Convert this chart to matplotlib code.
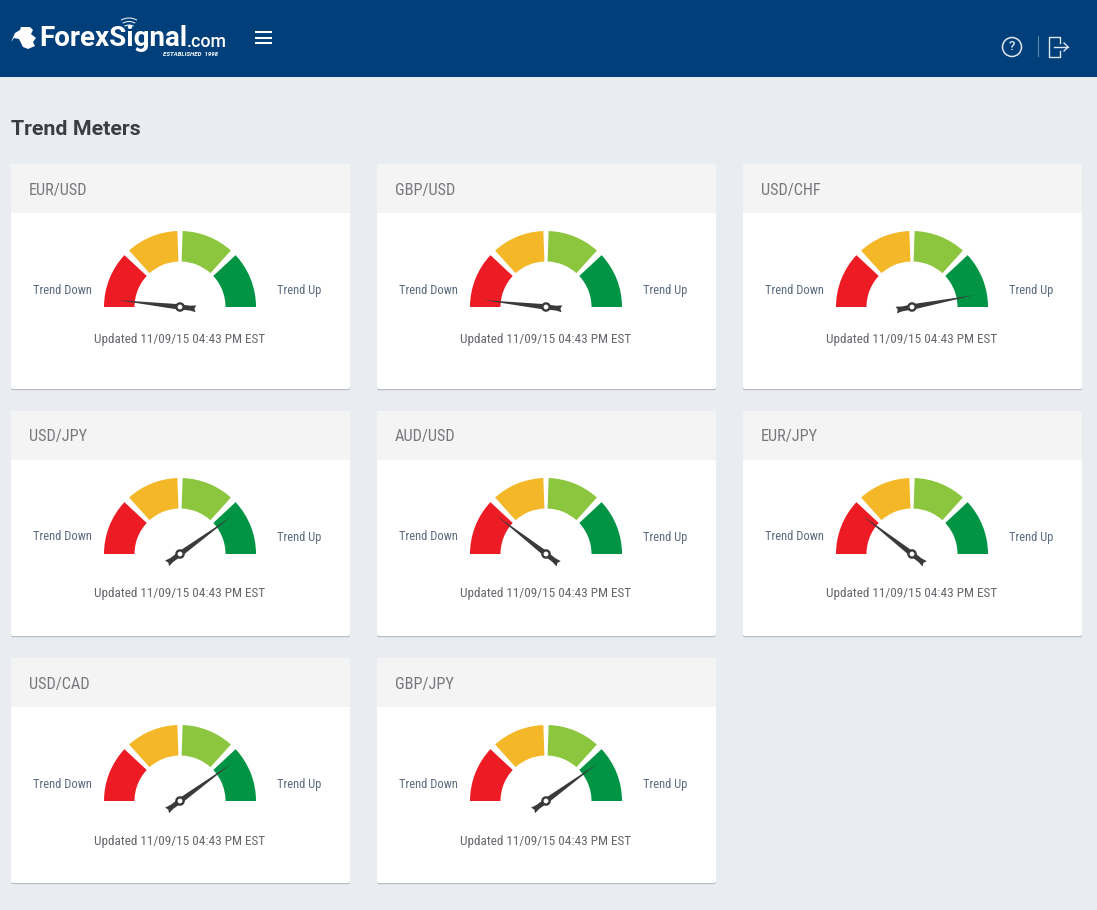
import numpy as np
import matplotlib
matplotlib.use('Agg')
import matplotlib.pyplot as plt
from matplotlib.patches import Wedge, Polygon, Circle, Rectangle, FancyBboxPatch, Arc
from matplotlib.transforms import Affine2D

pairs = ['EUR/USD', 'GBP/USD', 'USD/CHF', 'USD/JPY', 'AUD/USD', 'EUR/JPY', 'USD/CAD', 'GBP/JPY']
# needle position, 0 = far left (trend down), 100 = far right (trend up)
needle = [3.5, 3.5, 94, 80, 21, 21, 80, 80]
updated = 'Updated 11/09/15 04:43 PM EST'
zones = [(137, 180), (92, 132), (48, 88), (0, 43)]
zone_colors = ['#ed1c24', '#f4b728', '#8cc63f', '#009444']

plt.rcParams['font.family'] = 'Roboto'
narrow = 'Roboto Condensed'

fig = plt.figure(figsize=(10.97, 9.10), dpi=100, facecolor='#e9ecf1')
ax = fig.add_axes([0, 0, 1, 1])
ax.set_xlim(0, 1097)
ax.set_ylim(910, 0)
ax.axis('off')

# top bar
ax.add_patch(Rectangle((0, 0), 1097, 77, color='#003f7a', lw=0))

# logo
ax.add_patch(Polygon([(11, 42), (15, 33), (20, 30), (21, 27), (30, 27), (33, 30), (31, 34), (36, 38), (33, 42),
                      (35, 46), (28, 49), (23, 47), (19, 39), (14, 38)], color='white', lw=0))
ax.text(39, 39, 'ForexSignal', color='white', fontsize=20, fontweight='bold', va='center', ha='left')
ax.text(187, 42, '.com', color='white', fontsize=12.8, fontweight='medium', va='center', ha='left')
ax.text(163, 54.5, 'ESTABLISHED  1998', color='white', fontsize=4.4, fontweight='bold', style='italic', va='center')
for r in (9, 12.5, 16):
    ax.add_patch(Arc((129, 34), r * 2, r * 2, theta1=240, theta2=300, color='white', lw=0.7))
for y in (32, 37.5, 43):
    ax.plot([255, 272], [y, y], color='white', lw=1.5, solid_capstyle='butt')

# help / log out icons
ax.add_patch(Circle((1012, 47), 9.5, fill=False, ec='#dfe7f0', lw=1.1))
ax.text(1012, 47, '?', color='#dfe7f0', fontsize=9.5, fontweight='medium', ha='center', va='center')
ax.plot([1037.5, 1037.5], [36, 56], color='#5f86ad', lw=0.8)
ax.plot([1059.5, 1059.5, 1049, 1049, 1059.5, 1059.5], [43, 37, 37, 57, 57, 51], color='#dfe7f0', lw=1)
ax.plot([1054, 1068], [47, 47], color='#dfe7f0', lw=1)
ax.plot([1064, 1068, 1064], [43, 47, 51], color='#dfe7f0', lw=1)

ax.text(11, 129.5, 'Trend Meters', color='#3b3d42', fontsize=15.4, fontweight='bold', va='center', ha='left')

needle_x = [63, 4, -10, -16, -14.5, -16, -10, 4]
needle_y = [0, -2.6, -2.4, -3.4, 0, 3.4, 2.4, 2.6]

for i, pair in enumerate(pairs):
    x0 = [11, 377, 743][i % 3]
    y0 = [164, 411, 658][i // 3]
    w, h = 339, 225
    cx = x0 + 169
    cy = y0 + 143

    # shadow, card, header
    ax.add_patch(FancyBboxPatch((x0, y0 + 1.2), w, h, boxstyle='round,pad=0,rounding_size=2', fc='#b9bcc2', ec='none'))
    ax.add_patch(FancyBboxPatch((x0, y0), w, h, boxstyle='round,pad=0,rounding_size=2', fc='white', ec='none'))
    ax.add_patch(Rectangle((x0, y0), w, 49, color='#f4f4f5', lw=0))
    ax.text(x0 + 18, y0 + 26, pair, color='#77787c', fontsize=11.7, family=narrow, va='center', ha='left')

    for (t1, t2), col in zip(zones, zone_colors):
        # y axis points down, so the angles are mirrored
        ax.add_patch(Wedge((cx, cy), 76, -t2, -t1, width=30.5, color=col, lw=0))

    ax.text(x0 + 51, y0 + 126, 'Trend Down', color='#5b6b80', fontsize=9, family=narrow, ha='center', va='center')
    ax.text(x0 + 288, y0 + 126.5, 'Trend Up', color='#5b6b80', fontsize=9, family=narrow, ha='center', va='center')
    ax.text(cx, y0 + (176 if i < 3 else 183), updated, color='#66676d', fontsize=9.5, family=narrow, ha='center', va='center')

    angle = 180 - needle[i] * 1.8
    rot = Affine2D().rotate_deg(-angle).translate(cx, cy) + ax.transData
    ax.add_patch(Polygon(np.column_stack([needle_x, needle_y]), color='#3a3a3c', lw=0, transform=rot, zorder=5))
    ax.add_patch(Circle((cx, cy), 4.8, color='#3a3a3c', lw=0, zorder=6))
    ax.add_patch(Circle((cx, cy), 2.4, color='white', lw=0, zorder=7))

fig.savefig('out.png', dpi=100, facecolor=fig.get_facecolor())
